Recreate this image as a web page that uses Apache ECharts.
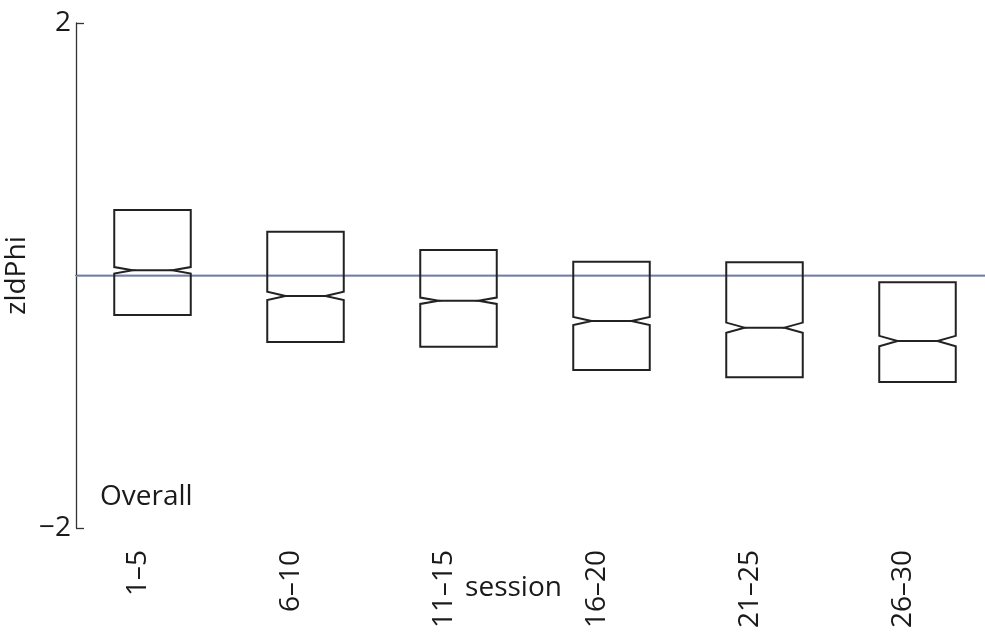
<!DOCTYPE html>
<html>
<head>
<meta charset="utf-8">
<script src="https://cdn.jsdelivr.net/npm/echarts@6/dist/echarts.min.js"></script>
<style>
  html, body { margin: 0; padding: 0; background: #ffffff; }
  #chart { width: 985px; height: 640px; }
</style>
</head>
<body>
<div id="chart"></div>
<script>
// ---- data ----
const categories = ['1\u20135', '6\u201310', '11\u201315', '16\u201320', '21\u201325', '26\u201330'];
const q3Values     = [0.519, 0.347, 0.202, 0.109, 0.104, -0.054];
const q1Values     = [-0.313, -0.527, -0.564, -0.749, -0.806, -0.844];
const medianValues = [0.041, -0.162, -0.200, -0.360, -0.413, -0.519];
const notchHigh    = [0.067, -0.129, -0.175, -0.328, -0.373, -0.478];
const notchLow     = [0.015, -0.195, -0.225, -0.392, -0.453, -0.560];
const referenceLine = 0;
const yTicks = [-2, 2];

const FONT = '"Open Sans", "Noto Sans", sans-serif';
const TEXT_COLOR = '#1a1a1a';

const boxData = categories.map((c, i) => [i, q1Values[i], notchLow[i], medianValues[i], notchHigh[i], q3Values[i]]);

const chart = echarts.init(document.getElementById('chart'), null, { renderer: 'canvas' });

function renderBox(params, api) {
  const idx = api.value(0);
  const band = api.size([1, 0])[0];
  const half = band * 0.25;
  const inset = half * 2 * 0.24;
  const cx = api.coord([idx, 0])[0];
  const yq1 = api.coord([idx, api.value(1)])[1];
  const ynl = api.coord([idx, api.value(2)])[1];
  const ymed = api.coord([idx, api.value(3)])[1];
  const ynh = api.coord([idx, api.value(4)])[1];
  const yq3 = api.coord([idx, api.value(5)])[1];
  const L = cx - half, R = cx + half;
  const pts = [
    [L, yq3], [R, yq3], [R, ynh], [R - inset, ymed], [R, ynl], [R, yq1],
    [L, yq1], [L, ynl], [L + inset, ymed], [L, ynh]
  ];
  const style = { stroke: '#222222', lineWidth: 2, fill: null, lineJoin: 'miter' };
  return {
    type: 'group',
    children: [
      { type: 'polygon', shape: { points: pts }, style: style },
      { type: 'line', shape: { x1: L + inset, y1: ymed, x2: R - inset, y2: ymed }, style: { stroke: '#222222', lineWidth: 2 } }
    ]
  };
}

const option = {
  backgroundColor: '#ffffff',
  animation: false,
  title: {
    text: 'Overall',
    left: 95,
    top: 478,
    textStyle: { fontFamily: FONT, fontSize: 28, fontWeight: 'normal', color: TEXT_COLOR }
  },
  grid: { left: 76, top: 23, width: 918, height: 505, containLabel: false, outerBoundsMode: 'none' },
  xAxis: {
    type: 'category',
    data: categories,
    boundaryGap: true,
    name: 'session',
    nameLocation: 'middle',
    nameGap: 46,
    nameMoveOverlap: false,
    nameTextStyle: { fontFamily: FONT, fontSize: 28, color: TEXT_COLOR, padding: [0, 43, 0, 0] },
    axisLine: { show: true, lineStyle: { color: '#333333', width: 1.3 } },
    axisTick: { show: false },
    axisLabel: {
      rotate: 90,
      margin: 22,
      verticalAlign: 'bottom',
      fontFamily: FONT, fontSize: 28, color: TEXT_COLOR,
      interval: 0
    },
    splitLine: { show: false }
  },
  yAxis: {
    type: 'value',
    min: yTicks[0],
    max: yTicks[1],
    interval: 4,
    name: 'zldPhi',
    nameLocation: 'middle',
    nameRotate: 90,
    nameGap: 45,
    nameMoveOverlap: false,
    nameTextStyle: { fontFamily: FONT, fontSize: 28, color: TEXT_COLOR },
    axisLine: { show: true, lineStyle: { color: '#333333', width: 1.3 } },
    axisTick: { show: true, inside: true, length: 8, lineStyle: { color: '#333333', width: 1.3 } },
    axisLabel: {
      margin: 5,
      fontFamily: FONT, fontSize: 28, color: TEXT_COLOR,
      formatter: v => (v < 0 ? '\u2212' + Math.abs(v) : String(v))
    },
    splitLine: { show: false }
  },
  series: [
    {
      type: 'custom',
      renderItem: renderBox,
      data: boxData,
      encode: { x: 0, y: [1, 2, 3, 4, 5] },
      clip: false,
      z: 3,
      markLine: {
        silent: true,
        symbol: ['none', 'none'],
        label: { show: false },
        lineStyle: { color: '#8799d4', width: 1.5, type: 'solid', opacity: 1 },
        emphasis: { disabled: true },
        data: [{ yAxis: referenceLine }],
        z: 2
      }
    }
  ]
};

chart.setOption(option);
</script>
</body>
</html>
